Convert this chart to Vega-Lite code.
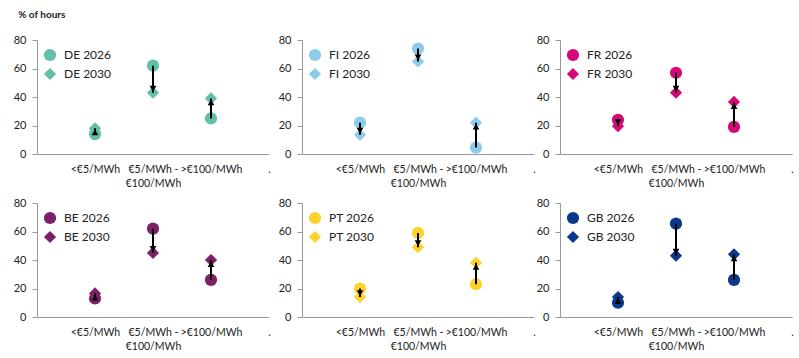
{
  "$schema": "https://vega.github.io/schema/vega-lite/v6.json",
  "padding": {"left": 13, "top": 10, "right": 5, "bottom": 5},
  "background": "white",
  "title": {"text": "% of hours", "anchor": "start", "fontSize": 10, "fontWeight": "bold", "font": "Lato", "color": "#222", "offset": 14, "dx": 5},
  "config": {
    "font": "Lato",
    "view": {"stroke": null},
    "axisY": {"values": [0, 20, 40, 60, 80], "grid": false, "domainColor": "#999", "tickColor": "#999", "tickSize": 5, "labelFontSize": 11, "labelColor": "#222", "labelPadding": 6, "title": null},
    "axisX": {"labelAngle": 0, "ticks": false, "domainColor": "#999", "labelExpr": "split(datum.label, '|')", "labelFontSize": 10.5, "labelColor": "#222", "labelPadding": 10, "labelLineHeight": 14, "labelOverlap": false, "labelBound": false, "labelFlush": false, "title": null},
    "legend": {"title": null, "orient": "none", "legendX": 6, "legendY": 8, "labelFontSize": 12, "labelColor": "#222", "symbolSize": 150, "rowPadding": 5, "labelOffset": 7}
  },
  "datasets": {
    "pts": [
      {"country": "DE", "cat": "<€5/MWh", "year": "2026", "series": "DE 2026", "value": 14},
      {"country": "DE", "cat": "<€5/MWh", "year": "2030", "series": "DE 2030", "value": 18},
      {"country": "DE", "cat": "€5/MWh -|€100/MWh", "year": "2026", "series": "DE 2026", "value": 62},
      {"country": "DE", "cat": "€5/MWh -|€100/MWh", "year": "2030", "series": "DE 2030", "value": 43},
      {"country": "DE", "cat": ">€100/MWh", "year": "2026", "series": "DE 2026", "value": 25},
      {"country": "DE", "cat": ">€100/MWh", "year": "2030", "series": "DE 2030", "value": 39},
      {"country": "FI", "cat": "<€5/MWh", "year": "2026", "series": "FI 2026", "value": 22},
      {"country": "FI", "cat": "<€5/MWh", "year": "2030", "series": "FI 2030", "value": 13.5},
      {"country": "FI", "cat": "€5/MWh -|€100/MWh", "year": "2026", "series": "FI 2026", "value": 74},
      {"country": "FI", "cat": "€5/MWh -|€100/MWh", "year": "2030", "series": "FI 2030", "value": 65},
      {"country": "FI", "cat": ">€100/MWh", "year": "2026", "series": "FI 2026", "value": 4.5},
      {"country": "FI", "cat": ">€100/MWh", "year": "2030", "series": "FI 2030", "value": 22},
      {"country": "FR", "cat": "<€5/MWh", "year": "2026", "series": "FR 2026", "value": 24},
      {"country": "FR", "cat": "<€5/MWh", "year": "2030", "series": "FR 2030", "value": 19.5},
      {"country": "FR", "cat": "€5/MWh -|€100/MWh", "year": "2026", "series": "FR 2026", "value": 57},
      {"country": "FR", "cat": "€5/MWh -|€100/MWh", "year": "2030", "series": "FR 2030", "value": 43},
      {"country": "FR", "cat": ">€100/MWh", "year": "2026", "series": "FR 2026", "value": 19},
      {"country": "FR", "cat": ">€100/MWh", "year": "2030", "series": "FR 2030", "value": 36.5},
      {"country": "BE", "cat": "<€5/MWh", "year": "2026", "series": "BE 2026", "value": 13},
      {"country": "BE", "cat": "<€5/MWh", "year": "2030", "series": "BE 2030", "value": 16.5},
      {"country": "BE", "cat": "€5/MWh -|€100/MWh", "year": "2026", "series": "BE 2026", "value": 62},
      {"country": "BE", "cat": "€5/MWh -|€100/MWh", "year": "2030", "series": "BE 2030", "value": 45},
      {"country": "BE", "cat": ">€100/MWh", "year": "2026", "series": "BE 2026", "value": 26},
      {"country": "BE", "cat": ">€100/MWh", "year": "2030", "series": "BE 2030", "value": 40},
      {"country": "PT", "cat": "<€5/MWh", "year": "2026", "series": "PT 2026", "value": 20},
      {"country": "PT", "cat": "<€5/MWh", "year": "2030", "series": "PT 2030", "value": 14},
      {"country": "PT", "cat": "€5/MWh -|€100/MWh", "year": "2026", "series": "PT 2026", "value": 59},
      {"country": "PT", "cat": "€5/MWh -|€100/MWh", "year": "2030", "series": "PT 2030", "value": 49},
      {"country": "PT", "cat": ">€100/MWh", "year": "2026", "series": "PT 2026", "value": 23},
      {"country": "PT", "cat": ">€100/MWh", "year": "2030", "series": "PT 2030", "value": 38},
      {"country": "GB", "cat": "<€5/MWh", "year": "2026", "series": "GB 2026", "value": 10},
      {"country": "GB", "cat": "<€5/MWh", "year": "2030", "series": "GB 2030", "value": 14},
      {"country": "GB", "cat": "€5/MWh -|€100/MWh", "year": "2026", "series": "GB 2026", "value": 65.5},
      {"country": "GB", "cat": "€5/MWh -|€100/MWh", "year": "2030", "series": "GB 2030", "value": 43},
      {"country": "GB", "cat": ">€100/MWh", "year": "2026", "series": "GB 2026", "value": 26},
      {"country": "GB", "cat": ">€100/MWh", "year": "2030", "series": "GB 2030", "value": 44}
    ]
  },
  "resolve": {"scale": {"color": "independent", "shape": "independent"}, "legend": {"color": "independent", "shape": "independent"}},
  "spacing": 8,
  "vconcat": [
    {
      "spacing": 7,
      "resolve": {"scale": {"color": "independent", "shape": "independent"}, "legend": {"color": "independent", "shape": "independent"}},
      "hconcat": [
        {
          "width": 232, "height": 114,
          "data": {"name": "pts"},
          "transform": [{"filter": "datum.country === 'DE'"}],
          "encoding": {"x": {"field": "cat", "type": "nominal", "scale": {"type": "point", "domain": [" ", "<€5/MWh", "€5/MWh -|€100/MWh", ">€100/MWh", "."], "padding": 0}}},
          "layer": [
            {"mark": {"type": "point", "filled": true, "opacity": 1, "size": 150},
             "encoding": {
               "y": {"field": "value", "type": "quantitative", "title": null, "scale": {"domain": [0, 80]}},
               "color": {"field": "series", "type": "nominal", "scale": {"range": ["#62BFA9", "#62BFA9"]}},
               "shape": {"field": "series", "type": "nominal", "scale": {"range": ["circle", "diamond"]}}}},
            {"transform": [{"pivot": "year", "value": "value", "groupby": ["cat"]}],
             "mark": {"type": "rule", "color": "black", "strokeWidth": 2},
             "encoding": {"y": {"field": "2026", "type": "quantitative", "title": null}, "y2": {"field": "2030"}}},
            {"transform": [{"pivot": "year", "value": "value", "groupby": ["cat"]}, {"filter": "datum['2030'] < datum['2026']"}],
             "mark": {"type": "point", "shape": "triangle-down", "filled": true, "color": "black", "opacity": 1, "size": 45, "yOffset": -4},
             "encoding": {"y": {"field": "2030", "type": "quantitative", "title": null}}},
            {"transform": [{"pivot": "year", "value": "value", "groupby": ["cat"]}, {"filter": "datum['2030'] > datum['2026']"}],
             "mark": {"type": "point", "shape": "triangle-up", "filled": true, "color": "black", "opacity": 1, "size": 45, "yOffset": 4},
             "encoding": {"y": {"field": "2030", "type": "quantitative", "title": null}}}
          ]
        },
        {
          "spacing": 0,
          "resolve": {"scale": {"color": "independent", "shape": "independent"}, "legend": {"color": "independent", "shape": "independent"}},
          "hconcat": [
            {
              "width": 232, "height": 114,
              "data": {"name": "pts"},
              "transform": [{"filter": "datum.country === 'FI'"}],
              "encoding": {"x": {"field": "cat", "type": "nominal", "scale": {"type": "point", "domain": [" ", "<€5/MWh", "€5/MWh -|€100/MWh", ">€100/MWh", "."], "padding": 0}}},
              "layer": [
                {"mark": {"type": "point", "filled": true, "opacity": 1, "size": 150},
                 "encoding": {
                   "y": {"field": "value", "type": "quantitative", "title": null, "scale": {"domain": [0, 80]}},
                   "color": {"field": "series", "type": "nominal", "scale": {"range": ["#8CCBEA", "#8CCBEA"]}},
                   "shape": {"field": "series", "type": "nominal", "scale": {"range": ["circle", "diamond"]}}}},
                {"transform": [{"pivot": "year", "value": "value", "groupby": ["cat"]}],
                 "mark": {"type": "rule", "color": "black", "strokeWidth": 2},
                 "encoding": {"y": {"field": "2026", "type": "quantitative", "title": null}, "y2": {"field": "2030"}}},
                {"transform": [{"pivot": "year", "value": "value", "groupby": ["cat"]}, {"filter": "datum['2030'] < datum['2026']"}],
                 "mark": {"type": "point", "shape": "triangle-down", "filled": true, "color": "black", "opacity": 1, "size": 45, "yOffset": -4},
                 "encoding": {"y": {"field": "2030", "type": "quantitative", "title": null}}},
                {"transform": [{"pivot": "year", "value": "value", "groupby": ["cat"]}, {"filter": "datum['2030'] > datum['2026']"}],
                 "mark": {"type": "point", "shape": "triangle-up", "filled": true, "color": "black", "opacity": 1, "size": 45, "yOffset": 4},
                 "encoding": {"y": {"field": "2030", "type": "quantitative", "title": null}}}
              ]
            },
            {
              "width": 232, "height": 114,
              "data": {"name": "pts"},
              "transform": [{"filter": "datum.country === 'FR'"}],
              "encoding": {"x": {"field": "cat", "type": "nominal", "scale": {"type": "point", "domain": [" ", "<€5/MWh", "€5/MWh -|€100/MWh", ">€100/MWh", "."], "padding": 0}}},
              "layer": [
                {"mark": {"type": "point", "filled": true, "opacity": 1, "size": 150},
                 "encoding": {
                   "y": {"field": "value", "type": "quantitative", "title": null, "scale": {"domain": [0, 80]}},
                   "color": {"field": "series", "type": "nominal", "scale": {"range": ["#D50A7A", "#D50A7A"]}},
                   "shape": {"field": "series", "type": "nominal", "scale": {"range": ["circle", "diamond"]}}}},
                {"transform": [{"pivot": "year", "value": "value", "groupby": ["cat"]}],
                 "mark": {"type": "rule", "color": "black", "strokeWidth": 2},
                 "encoding": {"y": {"field": "2026", "type": "quantitative", "title": null}, "y2": {"field": "2030"}}},
                {"transform": [{"pivot": "year", "value": "value", "groupby": ["cat"]}, {"filter": "datum['2030'] < datum['2026']"}],
                 "mark": {"type": "point", "shape": "triangle-down", "filled": true, "color": "black", "opacity": 1, "size": 45, "yOffset": -4},
                 "encoding": {"y": {"field": "2030", "type": "quantitative", "title": null}}},
                {"transform": [{"pivot": "year", "value": "value", "groupby": ["cat"]}, {"filter": "datum['2030'] > datum['2026']"}],
                 "mark": {"type": "point", "shape": "triangle-up", "filled": true, "color": "black", "opacity": 1, "size": 45, "yOffset": 4},
                 "encoding": {"y": {"field": "2030", "type": "quantitative", "title": null}}}
              ]
            }
          ]
        }
      ]
    },
    {
      "spacing": 7,
      "resolve": {"scale": {"color": "independent", "shape": "independent"}, "legend": {"color": "independent", "shape": "independent"}},
      "hconcat": [
        {
          "width": 232, "height": 114,
          "data": {"name": "pts"},
          "transform": [{"filter": "datum.country === 'BE'"}],
          "encoding": {"x": {"field": "cat", "type": "nominal", "scale": {"type": "point", "domain": [" ", "<€5/MWh", "€5/MWh -|€100/MWh", ">€100/MWh", "."], "padding": 0}}},
          "layer": [
            {"mark": {"type": "point", "filled": true, "opacity": 1, "size": 150},
             "encoding": {
               "y": {"field": "value", "type": "quantitative", "title": null, "scale": {"domain": [0, 80]}},
               "color": {"field": "series", "type": "nominal", "scale": {"range": ["#7E2068", "#7E2068"]}},
               "shape": {"field": "series", "type": "nominal", "scale": {"range": ["circle", "diamond"]}}}},
            {"transform": [{"pivot": "year", "value": "value", "groupby": ["cat"]}],
             "mark": {"type": "rule", "color": "black", "strokeWidth": 2},
             "encoding": {"y": {"field": "2026", "type": "quantitative", "title": null}, "y2": {"field": "2030"}}},
            {"transform": [{"pivot": "year", "value": "value", "groupby": ["cat"]}, {"filter": "datum['2030'] < datum['2026']"}],
             "mark": {"type": "point", "shape": "triangle-down", "filled": true, "color": "black", "opacity": 1, "size": 45, "yOffset": -4},
             "encoding": {"y": {"field": "2030", "type": "quantitative", "title": null}}},
            {"transform": [{"pivot": "year", "value": "value", "groupby": ["cat"]}, {"filter": "datum['2030'] > datum['2026']"}],
             "mark": {"type": "point", "shape": "triangle-up", "filled": true, "color": "black", "opacity": 1, "size": 45, "yOffset": 4},
             "encoding": {"y": {"field": "2030", "type": "quantitative", "title": null}}}
          ]
        },
        {
          "spacing": 0,
          "resolve": {"scale": {"color": "independent", "shape": "independent"}, "legend": {"color": "independent", "shape": "independent"}},
          "hconcat": [
            {
              "width": 232, "height": 114,
              "data": {"name": "pts"},
              "transform": [{"filter": "datum.country === 'PT'"}],
              "encoding": {"x": {"field": "cat", "type": "nominal", "scale": {"type": "point", "domain": [" ", "<€5/MWh", "€5/MWh -|€100/MWh", ">€100/MWh", "."], "padding": 0}}},
              "layer": [
                {"mark": {"type": "point", "filled": true, "opacity": 1, "size": 150},
                 "encoding": {
                   "y": {"field": "value", "type": "quantitative", "title": null, "scale": {"domain": [0, 80]}},
                   "color": {"field": "series", "type": "nominal", "scale": {"range": ["#FED22D", "#FED22D"]}},
                   "shape": {"field": "series", "type": "nominal", "scale": {"range": ["circle", "diamond"]}}}},
                {"transform": [{"pivot": "year", "value": "value", "groupby": ["cat"]}],
                 "mark": {"type": "rule", "color": "black", "strokeWidth": 2},
                 "encoding": {"y": {"field": "2026", "type": "quantitative", "title": null}, "y2": {"field": "2030"}}},
                {"transform": [{"pivot": "year", "value": "value", "groupby": ["cat"]}, {"filter": "datum['2030'] < datum['2026']"}],
                 "mark": {"type": "point", "shape": "triangle-down", "filled": true, "color": "black", "opacity": 1, "size": 45, "yOffset": -4},
                 "encoding": {"y": {"field": "2030", "type": "quantitative", "title": null}}},
                {"transform": [{"pivot": "year", "value": "value", "groupby": ["cat"]}, {"filter": "datum['2030'] > datum['2026']"}],
                 "mark": {"type": "point", "shape": "triangle-up", "filled": true, "color": "black", "opacity": 1, "size": 45, "yOffset": 4},
                 "encoding": {"y": {"field": "2030", "type": "quantitative", "title": null}}}
              ]
            },
            {
              "width": 232, "height": 114,
              "data": {"name": "pts"},
              "transform": [{"filter": "datum.country === 'GB'"}],
              "encoding": {"x": {"field": "cat", "type": "nominal", "scale": {"type": "point", "domain": [" ", "<€5/MWh", "€5/MWh -|€100/MWh", ">€100/MWh", "."], "padding": 0}}},
              "layer": [
                {"mark": {"type": "point", "filled": true, "opacity": 1, "size": 150},
                 "encoding": {
                   "y": {"field": "value", "type": "quantitative", "title": null, "scale": {"domain": [0, 80]}},
                   "color": {"field": "series", "type": "nominal", "scale": {"range": ["#0A398B", "#0A398B"]}},
                   "shape": {"field": "series", "type": "nominal", "scale": {"range": ["circle", "diamond"]}}}},
                {"transform": [{"pivot": "year", "value": "value", "groupby": ["cat"]}],
                 "mark": {"type": "rule", "color": "black", "strokeWidth": 2},
                 "encoding": {"y": {"field": "2026", "type": "quantitative", "title": null}, "y2": {"field": "2030"}}},
                {"transform": [{"pivot": "year", "value": "value", "groupby": ["cat"]}, {"filter": "datum['2030'] < datum['2026']"}],
                 "mark": {"type": "point", "shape": "triangle-down", "filled": true, "color": "black", "opacity": 1, "size": 45, "yOffset": -4},
                 "encoding": {"y": {"field": "2030", "type": "quantitative", "title": null}}},
                {"transform": [{"pivot": "year", "value": "value", "groupby": ["cat"]}, {"filter": "datum['2030'] > datum['2026']"}],
                 "mark": {"type": "point", "shape": "triangle-up", "filled": true, "color": "black", "opacity": 1, "size": 45, "yOffset": 4},
                 "encoding": {"y": {"field": "2030", "type": "quantitative", "title": null}}}
              ]
            }
          ]
        }
      ]
    }
  ]
}
